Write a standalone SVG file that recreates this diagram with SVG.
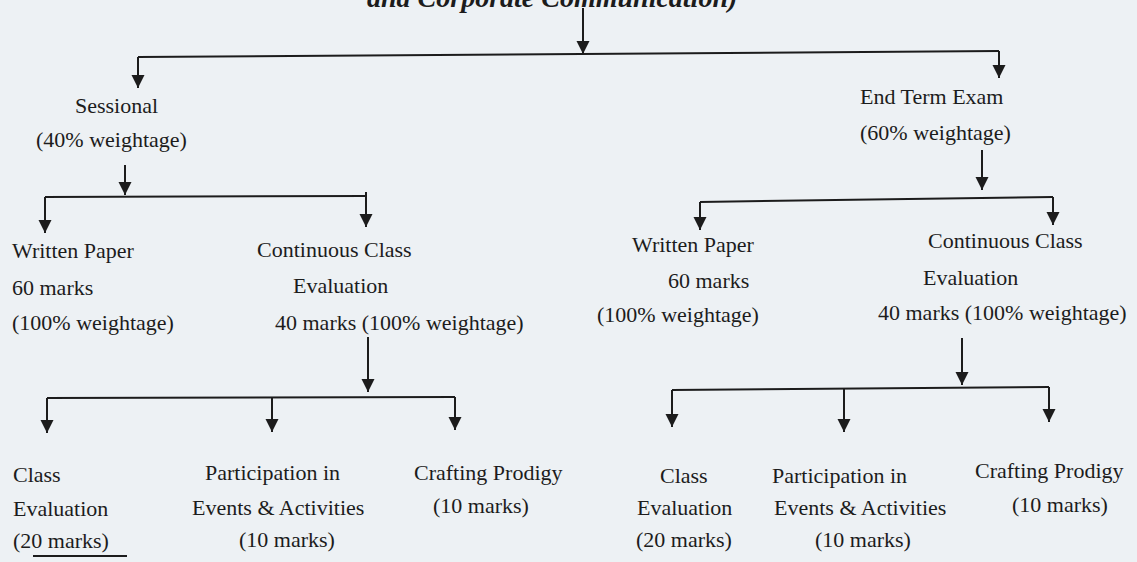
<svg xmlns="http://www.w3.org/2000/svg" width="1137" height="562" viewBox="0 0 1137 562">
<style>
  .t { font-family: "Liberation Serif", "Times New Roman", serif; font-size: 22px; fill: #1c1c1c; }
  .title { font-family: "Liberation Serif", "Times New Roman", serif; font-size: 28px; font-weight: bold; font-style: italic; fill: #1c1c1c; }
  .c { fill: none; stroke: #1c1c1c; stroke-width: 2; }
  .a { fill: none; stroke: #1c1c1c; stroke-width: 2; marker-end: url(#arr); }
</style>
<defs>
  <marker id="arr" markerUnits="userSpaceOnUse" markerWidth="14" markerHeight="14" refX="13" refY="6.5" orient="auto">
    <path d="M0,0 L13,6.5 L0,13 Z" fill="#1c1c1c"/>
  </marker>
</defs>
<rect width="1137" height="562" fill="#edf1f4"/>

<g id="root">
  <text class="title" x="367" y="7">and Corporate Communication)</text>
</g>

<g id="connectors">
  <path class="a" d="M583,8 V54"/>
  <path class="c" d="M138,57 L999,51"/>
  <path class="a" d="M138,57 V88"/>
  <path class="a" d="M999,51 V78"/>

  <path class="a" d="M125,165 V195"/>
  <path class="c" d="M45,197 L366,196"/>
  <path class="a" d="M45,197 V233"/>
  <path class="a" d="M366,192 V227"/>

  <path class="a" d="M368,337 V392"/>
  <path class="c" d="M47,398 L455,397"/>
  <path class="a" d="M47,398 V433"/>
  <path class="a" d="M272,398 V432"/>
  <path class="a" d="M455,397 V430"/>

  <path class="a" d="M982,150 V190"/>
  <path class="c" d="M700,202 L1053,197"/>
  <path class="a" d="M700,202 V230"/>
  <path class="a" d="M1053,197 V225"/>

  <path class="a" d="M962,338 V385"/>
  <path class="c" d="M672,390 L1049,387"/>
  <path class="a" d="M672,390 V427"/>
  <path class="a" d="M844,389 V432"/>
  <path class="a" d="M1049,387 V422"/>
</g>

<g id="sessional">
  <text class="t" x="75" y="113">Sessional</text>
  <text class="t" x="36" y="147">(40% weightage)</text>
</g>
<g id="s-written">
  <text class="t" x="12" y="258">Written Paper</text>
  <text class="t" x="12" y="295">60 marks</text>
  <text class="t" x="12" y="330">(100% weightage)</text>
</g>
<g id="s-cce">
  <text class="t" x="257" y="257">Continuous Class</text>
  <text class="t" x="293" y="293">Evaluation</text>
  <text class="t" x="275" y="330">40 marks (100% weightage)</text>
</g>
<g id="s-class">
  <text class="t" x="13" y="482">Class</text>
  <text class="t" x="13" y="516">Evaluation</text>
  <text class="t" x="13" y="548">(20 marks)</text>
  <path class="c" d="M33,556 H127" stroke-width="1.5"/>
</g>
<g id="s-part">
  <text class="t" x="205" y="480">Participation in</text>
  <text class="t" x="192" y="515">Events &amp; Activities</text>
  <text class="t" x="239" y="547">(10 marks)</text>
</g>
<g id="s-craft">
  <text class="t" x="414" y="480">Crafting Prodigy</text>
  <text class="t" x="433" y="513">(10 marks)</text>
</g>

<g id="endterm">
  <text class="t" x="860" y="104">End Term Exam</text>
  <text class="t" x="860" y="140">(60% weightage)</text>
</g>
<g id="e-written">
  <text class="t" x="632" y="252">Written Paper</text>
  <text class="t" x="668" y="288">60 marks</text>
  <text class="t" x="597" y="322">(100% weightage)</text>
</g>
<g id="e-cce">
  <text class="t" x="928" y="248">Continuous Class</text>
  <text class="t" x="923" y="285">Evaluation</text>
  <text class="t" x="878" y="320">40 marks (100% weightage)</text>
</g>
<g id="e-class">
  <text class="t" x="660" y="483">Class</text>
  <text class="t" x="637" y="515">Evaluation</text>
  <text class="t" x="636" y="547">(20 marks)</text>
</g>
<g id="e-part">
  <text class="t" x="772" y="483">Participation in</text>
  <text class="t" x="774" y="515">Events &amp; Activities</text>
  <text class="t" x="815" y="547">(10 marks)</text>
</g>
<g id="e-craft">
  <text class="t" x="975" y="478">Crafting Prodigy</text>
  <text class="t" x="1012" y="512">(10 marks)</text>
</g>
</svg>
